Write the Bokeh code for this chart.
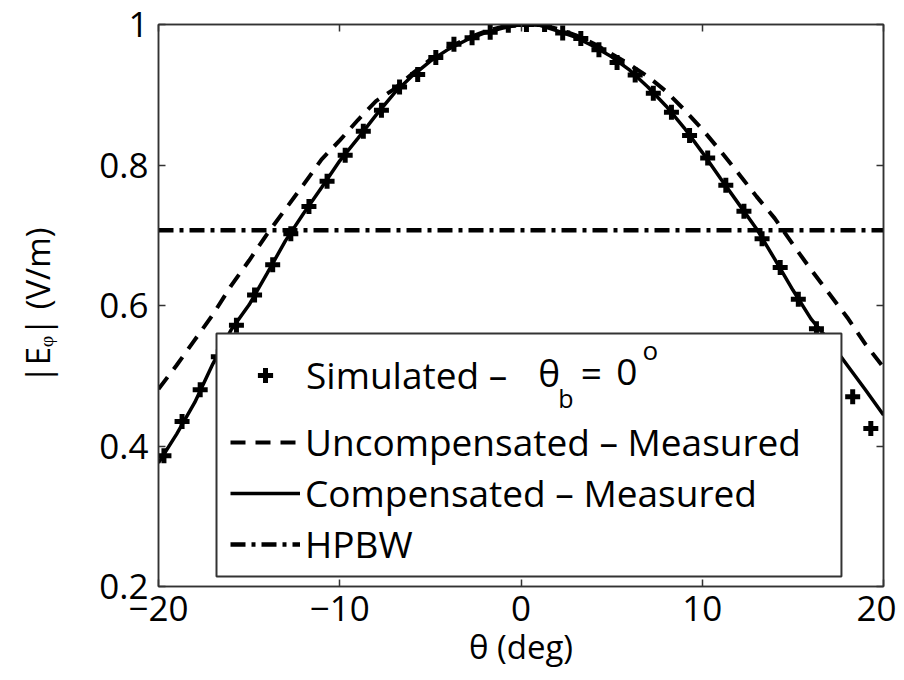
from bokeh.plotting import figure
from bokeh.models import (Range1d, FixedTicker, LinearAxis, Legend, LegendItem,
                          BoxAnnotation, Label)
from bokeh.embed import file_html
from bokeh.resources import INLINE

# ---------------- data ----------------
sim_theta = [-19.7, -18.7, -17.7, -16.7, -15.7, -14.7, -13.7, -12.7, -11.7, -10.7,
             -9.7, -8.7, -7.7, -6.7, -5.7, -4.7, -3.7, -2.7, -1.7, -0.7,
             0.3, 1.3, 2.3, 3.3, 4.3, 5.3, 6.3, 7.3, 8.3, 9.3,
             10.3, 11.3, 12.3, 13.3, 14.3, 15.3, 16.3, 17.3, 18.3, 19.3]
sim_values = [0.386, 0.435, 0.480, 0.527, 0.572, 0.615, 0.658, 0.702, 0.741, 0.777,
              0.814, 0.848, 0.878, 0.911, 0.929, 0.953, 0.972, 0.981, 0.989, 0.999,
              1.000, 1.000, 0.988, 0.980, 0.964, 0.946, 0.928, 0.902, 0.875, 0.842,
              0.810, 0.771, 0.734, 0.695, 0.654, 0.609, 0.567, 0.520, 0.470, 0.425]

meas_theta = [-20, -19, -18, -17, -16, -15, -14, -13, -12, -11, -10, -9, -8, -7, -6,
              -5, -4, -3, -2, -1, 0, 1, 2, 3, 4, 5, 6, 7, 8, 9, 10, 11, 12, 13, 14,
              15, 16, 17, 18, 19, 20]
uncomp_values = [0.481, 0.515, 0.551, 0.587, 0.628, 0.664, 0.702, 0.737, 0.772, 0.808,
                 0.835, 0.864, 0.891, 0.908, 0.930, 0.950, 0.967, 0.980, 0.990, 0.997,
                 1.000, 1.000, 0.994, 0.985, 0.973, 0.958, 0.943, 0.926, 0.905, 0.879,
                 0.851, 0.820, 0.788, 0.755, 0.724, 0.687, 0.651, 0.617, 0.583, 0.545,
                 0.512]
comp_values = [0.376, 0.417, 0.462, 0.517, 0.565, 0.601, 0.646, 0.692, 0.731, 0.768,
               0.806, 0.838, 0.871, 0.902, 0.927, 0.948, 0.965, 0.978, 0.988, 0.995,
               1.000, 0.999, 0.991, 0.982, 0.969, 0.954, 0.935, 0.911, 0.884, 0.853,
               0.818, 0.781, 0.745, 0.709, 0.666, 0.622, 0.581, 0.550, 0.515, 0.480,
               0.444]

hpbw_theta = [-20, 20]
hpbw_values = [0.707, 0.707]

x_ticks = [-20, -10, 0, 10, 20]
x_tick_labels = ["\u221220", "\u221210", "0", "10", "20"]
y_ticks = [0.2, 0.4, 0.6, 0.8, 1.0]
y_tick_labels = ["0.2", "0.4", "0.6", "0.8", "1"]

x_label = "\u03b8 (deg)"
y_label = "|E\u1d69| (V/m)"
legend_labels = ["Simulated \u2013", "Uncompensated \u2013 Measured",
                 "Compensated \u2013 Measured", "HPBW"]

FONT = "Open Sans"
INK = "black"
FRAME = "#333333"

# ---------------- figure ----------------
p = figure(width=896, height=672, x_range=Range1d(-20, 20), y_range=Range1d(0.2, 1.0),
           output_backend="svg", toolbar_location=None,
           min_border_left=158, min_border_right=13, min_border_top=24,
           min_border_bottom=86, background_fill_color="white",
           border_fill_color="white")
p.xgrid.visible = False
p.ygrid.visible = False
p.outline_line_color = FRAME
p.outline_line_width = 1.5

def style_axis(ax, ticks, labels, show_labels=True):
    ax.ticker = FixedTicker(ticks=ticks)
    ax.major_label_overrides = dict(zip(ticks, labels))
    ax.minor_tick_line_color = None
    ax.major_tick_in = 7
    ax.major_tick_out = 0
    ax.major_tick_line_color = FRAME
    ax.major_tick_line_width = 1.5
    ax.axis_line_color = FRAME
    ax.axis_line_width = 1.5
    ax.major_label_text_font = FONT
    ax.major_label_text_font_size = "35px"
    ax.major_label_text_color = INK if show_labels else None
    ax.axis_label_text_font = FONT
    ax.axis_label_text_font_size = "33px"
    ax.axis_label_text_font_style = "normal"
    ax.axis_label_text_color = INK

style_axis(p.xaxis[0], x_ticks, x_tick_labels)
style_axis(p.yaxis[0], y_ticks, y_tick_labels)
p.xaxis[0].axis_label = x_label
p.yaxis[0].axis_label = y_label
p.xaxis[0].major_label_standoff = 9
p.xaxis[0].axis_label_standoff = 0
p.yaxis[0].major_label_standoff = 10
p.yaxis[0].axis_label_standoff = 36

top_ax = LinearAxis()
right_ax = LinearAxis()
style_axis(top_ax, x_ticks, x_tick_labels, show_labels=False)
style_axis(right_ax, y_ticks, y_tick_labels, show_labels=False)
top_ax.major_label_standoff = 0
right_ax.major_label_standoff = 0
p.add_layout(top_ax, "above")
p.add_layout(right_ax, "right")

# ---------------- data renderers ----------------
r_unc = p.line(meas_theta, uncomp_values, line_color=INK, line_width=4,
               line_dash="15 10")
r_comp = p.line(meas_theta, comp_values, line_color=INK, line_width=3.5)
r_hpbw = p.line(hpbw_theta, hpbw_values, line_color=INK, line_width=4.5,
                line_dash="15 6 4 6")
r_sim = p.scatter(sim_theta, sim_values, marker="cross", size=15, line_width=5,
                  line_color=INK)

# ---------------- legend ----------------
box = BoxAnnotation(left=-16.8, right=17.68, top=0.5601, bottom=0.2142,
                    fill_color="white", fill_alpha=1.0,
                    line_color=FRAME, line_width=2, line_alpha=1.0)
p.add_layout(box)

leg_common = dict(glyph_width=70, padding=0, spacing=0, border_line_color=None,
                  background_fill_alpha=0, label_text_font=FONT,
                  label_text_font_size="37px", label_text_color=INK,
                  margin=0)

leg_top = Legend(items=[LegendItem(label=legend_labels[0], renderers=[r_sim])],
                 location=(72, 186), glyph_height=38, label_height=38,
                 label_standoff=6, **leg_common)
leg_rest = Legend(items=[LegendItem(label=legend_labels[1], renderers=[r_unc]),
                         LegendItem(label=legend_labels[2], renderers=[r_comp]),
                         LegendItem(label=legend_labels[3], renderers=[r_hpbw])],
                  location=(72, 17), glyph_height=50, label_height=50,
                  label_standoff=5, **leg_common)
p.add_layout(leg_top)
p.add_layout(leg_rest)

# "theta_b = 0 o" part of the first legend entry
txt = dict(text_font=FONT, text_color=INK, text_baseline="alphabetic")
p.add_layout(Label(x=0.95, y=0.5053, text="\u03b8", text_font_size="37px", **txt))
p.add_layout(Label(x=2.05, y=0.4677, text="b", text_font_size="25px", **txt))
p.add_layout(Label(x=3.3, y=0.5053, text="=", text_font_size="37px", **txt))
p.add_layout(Label(x=5.25, y=0.5053, text="0", text_font_size="37px", **txt))
p.add_layout(Label(x=6.7, y=0.536, text="o", text_font_size="26px", **txt))

open("out.html", "w").write(file_html(p, INLINE))
